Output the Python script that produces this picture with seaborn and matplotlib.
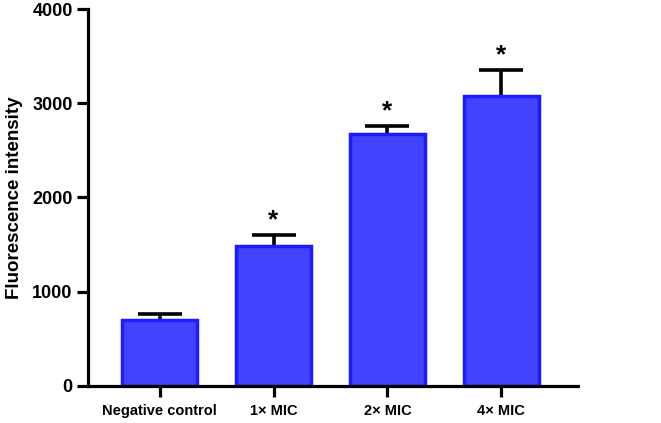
import matplotlib
matplotlib.use("Agg")
import matplotlib.pyplot as plt
import seaborn as sns
import pandas as pd
import numpy as np

categories = ["Negative control", "1\u00d7 MIC", "2\u00d7 MIC", "4\u00d7 MIC"]
values = [705, 1485, 2675, 3075]
errors = [60, 120, 80, 275]
significant = ["", "*", "*", "*"]

sns.set_theme(style="ticks")
plt.rcParams['font.family'] = ['Liberation Sans', 'DejaVu Sans']
plt.rcParams['text.color'] = 'black'
plt.rcParams['axes.labelcolor'] = 'black'
plt.rcParams['xtick.color'] = 'black'
plt.rcParams['ytick.color'] = 'black'

df = pd.DataFrame({"group": categories, "value": values})

fig = plt.figure(figsize=(6.61, 4.23), dpi=100)
ax = fig.add_axes([0.133, 0.0875, 0.741, 0.8912])

sns.barplot(data=df, x="group", y="value", ax=ax, errorbar=None,
            color="#4343ff", saturation=1, width=0.66,
            edgecolor="#1c1cff", linewidth=2.5, zorder=2)

x = np.arange(len(categories))
_, caps, _ = ax.errorbar(x, values, yerr=[np.zeros(len(errors)), errors], fmt="none",
                         ecolor="black", elinewidth=2.6, capsize=15.5, capthick=2.6, zorder=1)
if len(caps) >= 2:
    caps[0].set_visible(False)

for xi, v, e, s in zip(x, values, errors, significant):
    if s:
        ax.text(xi, v + e + 30, s, ha="center", va="bottom", fontsize=19,
                fontweight="bold", color="black")

ax.set_ylim(0, 4000)
ax.set_xlim(-0.63, 3.67)
ax.set_yticks([0, 1000, 2000, 3000, 4000])
ax.set_xlabel("")
ax.set_ylabel("Fluorescence intensity", fontsize=13.5, fontweight="bold", labelpad=7,
              color="black")
for lab in ax.get_yticklabels():
    lab.set_fontweight("bold")
    lab.set_fontsize(13)
for lab in ax.get_xticklabels():
    lab.set_fontweight("bold")
    lab.set_fontsize(10.5)

sns.despine(ax=ax)
for sp in ["left", "bottom"]:
    ax.spines[sp].set_linewidth(2.3)
    ax.spines[sp].set_color("black")
ax.tick_params(axis="both", width=2.3, length=8, color="black", labelcolor="black")
ax.tick_params(axis="y", pad=3)
ax.tick_params(axis="x", pad=5)

fig.savefig("out.png", dpi=100)
